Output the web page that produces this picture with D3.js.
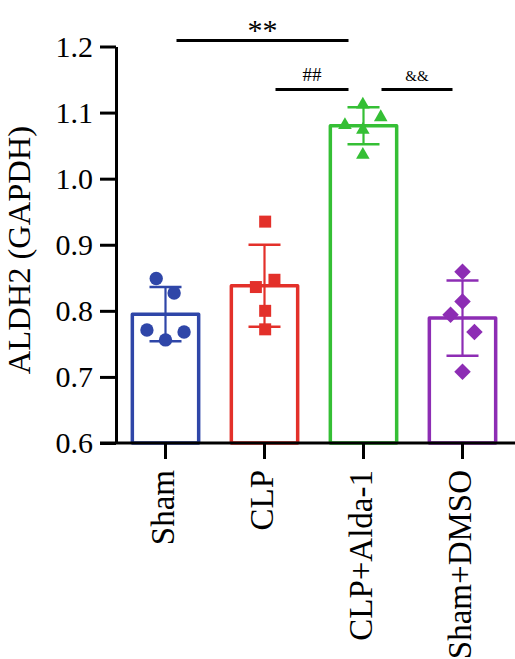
<!DOCTYPE html>
<html>
<head>
<meta charset="utf-8">
<script src="https://cdn.jsdelivr.net/npm/d3@7"></script>
<style>
  body { margin: 0; background: #fff; }
  svg { display: block; }
  text { font-family: "Times New Roman", Times, "Liberation Serif", "Nimbus Roman", serif; }
</style>
</head>
<body>
<svg id="chart" width="515" height="659"></svg>
<script>
// groups and summary values
var categories = ["Sham", "CLP", "CLP+Alda-1", "Sham+DMSO"];
var means = [0.795, 0.838, 1.080, 0.789];
var sds = [0.041, 0.062, 0.028, 0.057];
var colors = ["#2f46a8", "#e3302a", "#35bf35", "#8d2db4"];
var shapes = ["circle", "square", "triangle", "diamond"];

// individual animals per group
var shamPoints = [0.849, 0.827, 0.771, 0.756, 0.768];
var clpPoints = [0.935, 0.836, 0.847, 0.800, 0.772];
var aldaPoints = [1.112, 1.093, 1.081, 1.074, 1.036];
var dmsoPoints = [0.859, 0.814, 0.794, 0.768, 0.708];
var points = [shamPoints, clpPoints, aldaPoints, dmsoPoints];
// horizontal scatter of the dots, fraction of bar width
var jitter = [
    [-0.14, 0.13, -0.28, 0.0, 0.28],
    [0.01, -0.13, 0.15, 0.01, 0.01],
    [-0.01, 0.26, -0.28, -0.01, -0.01],
    [0.0, 0.0, -0.18, 0.18, 0.0]
];

var yTicks = [0.6, 0.7, 0.8, 0.9, 1.0, 1.1, 1.2];

// significance brackets
var sigFrom = [0, 1, 2];
var sigTo = [2, 2, 3];
var sigLabels = ["**", "##", "&&"];
var sigLevels = [1.209, 1.135, 1.135];
var sigFontSize = [30, 19, 15];

var serif = "'Times New Roman', Times, 'Liberation Serif', serif";

var svg = d3.select("#chart");

var x = d3.scaleBand()
    .domain(categories)
    .range([116, 512])
    .paddingInner(0.33)
    .paddingOuter(0.165);

var y = d3.scaleLinear()
    .domain([0.6, 1.2])
    .range([443, 46.5]);

var cx = function (i) { return x(categories[i]) + x.bandwidth() / 2; };

// bars (open, coloured outline)
svg.append("g")
    .selectAll("rect")
    .data(means)
    .enter().append("rect")
    .attr("x", function (d, i) { return x(categories[i]); })
    .attr("y", function (d) { return y(d); })
    .attr("width", x.bandwidth())
    .attr("height", function (d) { return y(0.6) - y(d); })
    .attr("fill", "none")
    .attr("stroke", function (d, i) { return colors[i]; })
    .attr("stroke-width", 3.5)
    .attr("stroke-linejoin", "round");

// error bars (mean +/- SD)
var err = svg.append("g");
means.forEach(function (m, i) {
    var c = cx(i);
    err.append("line")
        .attr("x1", c).attr("x2", c)
        .attr("y1", y(m + sds[i])).attr("y2", y(m - sds[i]))
        .attr("stroke", colors[i]).attr("stroke-width", 2.2);
    [m + sds[i], m - sds[i]].forEach(function (v) {
        err.append("line")
            .attr("x1", c - 16).attr("x2", c + 16)
            .attr("y1", y(v)).attr("y2", y(v))
            .attr("stroke", colors[i]).attr("stroke-width", 2.5);
    });
});

// dots
var symbolFor = {
    circle: d3.symbol().type(d3.symbolCircle).size(140),
    square: d3.symbol().type(d3.symbolSquare).size(144),
    triangle: d3.symbol().type(d3.symbolTriangle).size(80),
    diamond: d3.symbol().type(d3.symbolSquare).size(136)
};
var dots = svg.append("g");
points.forEach(function (vals, i) {
    vals.forEach(function (v, j) {
        var px = cx(i) + jitter[i][j] * x.bandwidth();
        var rot = shapes[i] === "diamond" ? " rotate(45)" : "";
        dots.append("path")
            .attr("d", symbolFor[shapes[i]]())
            .attr("transform", "translate(" + px + "," + y(v) + ")" + rot)
            .attr("fill", colors[i]);
    });
});

// y axis
var yAxis = svg.append("g")
    .attr("transform", "translate(116,0)")
    .call(d3.axisLeft(y)
        .tickValues(yTicks)
        .tickFormat(d3.format(".1f"))
        .tickSize(16)
        .tickSizeOuter(0)
        .tickPadding(7));
yAxis.attr("font-family", serif);
yAxis.select(".domain").attr("stroke", "#000").attr("stroke-width", 3);
yAxis.selectAll(".tick line").attr("stroke", "#000").attr("stroke-width", 3);
yAxis.selectAll(".tick text")
    .attr("font-size", 30)
    .attr("fill", "#000");

// x axis
var xAxis = svg.append("g")
    .attr("transform", "translate(0,443)")
    .call(d3.axisBottom(x).tickSize(16).tickSizeOuter(0));
xAxis.attr("font-family", serif);
xAxis.select(".domain").remove();
xAxis.append("line")
    .attr("x1", 100).attr("x2", 515)
    .attr("stroke", "#000").attr("stroke-width", 3);
xAxis.selectAll(".tick line").attr("stroke", "#000").attr("stroke-width", 3);
xAxis.selectAll(".tick text")
    .attr("font-size", 33)
    .attr("fill", "#000")
    .attr("text-anchor", "end")
    .attr("y", 0)
    .attr("dy", 0)
    .attr("transform", "translate(8,27) rotate(-90)");

// y axis title
svg.append("text")
    .attr("transform", "translate(30,250) rotate(-90)")
    .attr("text-anchor", "middle")
    .attr("font-size", 32.5)
    .attr("fill", "#000")
    .text("ALDH2 (GAPDH)");

// significance brackets
var sig = svg.append("g");
sigLabels.forEach(function (lab, k) {
    var x1 = cx(sigFrom[k]) + 11;
    var x2 = cx(sigTo[k]) - 15;
    if (k === 2) { x1 = cx(sigFrom[k]) + 18; x2 = cx(sigTo[k]) - 10; }
    sig.append("line")
        .attr("x1", x1).attr("x2", x2)
        .attr("y1", y(sigLevels[k])).attr("y2", y(sigLevels[k]))
        .attr("stroke", "#000").attr("stroke-width", 3);
    sig.append("text")
        .attr("x", (x1 + x2) / 2)
        .attr("y", y(sigLevels[k]) - (k === 0 ? 1 : 8))
        .attr("text-anchor", "middle")
        .attr("font-size", sigFontSize[k])
        .attr("fill", "#000")
        .text(lab);
});
</script>
</body>
</html>
